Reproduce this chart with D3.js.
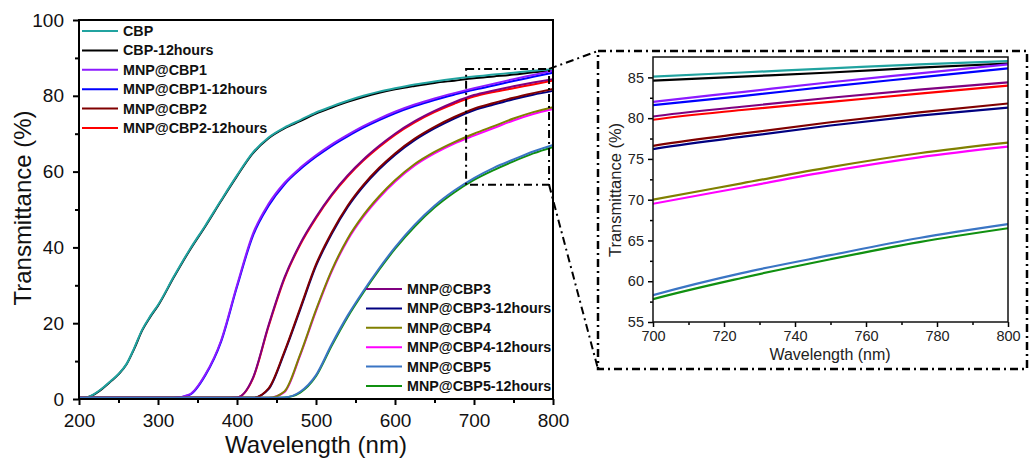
<!doctype html>
<html>
<head>
    <meta http-equiv="Content-type" content="text/html; charset=utf-8"/>
    <script src="https://d3js.org/d3.v7.min.js"></script>
    <style>
        body { margin: 0; background: #fff; }
        svg { display: block; font-family: "Liberation Sans", Arial, sans-serif; }
        .legend text { font-weight: bold; font-size: 14.3px; }
    </style>
</head>
<body>
    <svg width="1035" height="459"></svg>

    <script>
        var wavelength = [200,210,220,230,240,250,260,270,280,290,300,320,340,360,380,400,420,440,460,480,500,520,540,560,580,600,625,650,675,700,725,750,775,800];

        var cbp    = [0.2,0.4,1.4,2.9,4.7,6.6,9.2,13.5,18.3,21.8,24.8,32.3,39.4,45.8,52.5,59.0,65.0,69.0,71.6,73.6,75.6,77.2,78.7,80.0,81.1,82.0,83.0,83.8,84.5,85.1,85.6,86.1,86.6,87.0];
        var cbp12  = [0.2,0.4,1.3,2.8,4.6,6.5,9.1,13.3,18.1,21.6,24.6,32.1,39.2,45.6,52.3,58.8,64.8,68.8,71.4,73.3,75.3,76.9,78.4,79.7,80.8,81.7,82.6,83.4,84.0,84.6,85.1,85.6,86.2,86.7];
        var mnp1   = [0.3,0.3,0.3,0.3,0.3,0.3,0.3,0.3,0.3,0.3,0.3,0.3,1.2,6.5,15.5,30.0,43.5,51.5,57.0,61.0,64.3,67.2,69.7,72.0,74.0,75.8,77.7,79.3,80.7,82.0,83.2,84.4,85.5,86.6];
        var mnp1h  = [0.3,0.3,0.3,0.3,0.3,0.3,0.3,0.3,0.3,0.3,0.3,0.3,1.1,6.3,15.2,29.6,43.0,51.0,56.6,60.6,63.9,66.8,69.3,71.6,73.6,75.4,77.3,78.9,80.3,81.6,82.7,83.9,85.0,86.1];
        var mnp2   = [0.3,0.3,0.3,0.3,0.3,0.3,0.3,0.3,0.3,0.3,0.3,0.3,0.3,0.3,0.3,0.3,0.3,2.8,12.5,24.0,35.5,44.0,51.0,56.5,61.0,64.8,68.7,71.8,74.4,76.6,78.1,79.5,80.7,81.8];
        var mnp2h  = [0.3,0.3,0.3,0.3,0.3,0.3,0.3,0.3,0.3,0.3,0.3,0.3,0.3,0.3,0.3,0.4,5.3,19.2,31.7,40.7,47.7,53.7,58.7,62.9,66.5,69.7,73.0,75.7,77.9,79.8,81.0,82.0,83.0,84.0];
        var mnp3   = [0.3,0.3,0.3,0.3,0.3,0.3,0.3,0.3,0.3,0.3,0.3,0.3,0.3,0.3,0.3,0.4,5.5,19.5,32.0,41.0,48.0,54.0,59.0,63.2,66.8,70.0,73.3,76.0,78.3,80.2,81.4,82.5,83.5,84.4];
        var mnp3h  = [0.3,0.3,0.3,0.3,0.3,0.3,0.3,0.3,0.3,0.3,0.3,0.3,0.3,0.3,0.3,0.3,0.3,2.6,12.2,23.6,35.1,43.6,50.6,56.1,60.6,64.4,68.3,71.4,74.0,76.2,77.7,79.1,80.3,81.3];
        var mnp4   = [0.3,0.3,0.3,0.3,0.3,0.3,0.3,0.3,0.3,0.3,0.3,0.3,0.3,0.3,0.3,0.3,0.3,0.3,2.0,11.8,23.5,34.0,42.3,48.5,53.5,57.7,62.0,65.2,67.8,70.0,72.0,74.0,75.7,77.0];
        var mnp4h  = [0.3,0.3,0.3,0.3,0.3,0.3,0.3,0.3,0.3,0.3,0.3,0.3,0.3,0.3,0.3,0.3,0.3,0.3,1.8,11.5,23.2,33.7,41.9,48.1,53.1,57.3,61.6,64.8,67.4,69.5,71.5,73.5,75.2,76.5];
        var mnp5   = [0.3,0.3,0.3,0.3,0.3,0.3,0.3,0.3,0.3,0.3,0.3,0.3,0.3,0.3,0.3,0.3,0.3,0.3,0.4,1.9,6.3,14.5,22.0,28.5,34.5,40.0,46.0,51.0,55.0,58.3,61.0,63.2,65.3,67.0];
        var mnp5h  = [0.3,0.3,0.3,0.3,0.3,0.3,0.3,0.3,0.3,0.3,0.3,0.3,0.3,0.3,0.3,0.3,0.3,0.3,0.4,1.7,6.0,14.1,21.6,28.1,34.1,39.6,45.5,50.5,54.5,57.8,60.4,62.7,64.8,66.5];

        var names  = ["CBP","CBP-12hours","MNP@CBP1","MNP@CBP1-12hours","MNP@CBP2","MNP@CBP2-12hours",
                      "MNP@CBP3","MNP@CBP3-12hours","MNP@CBP4","MNP@CBP4-12hours","MNP@CBP5","MNP@CBP5-12hours"];
        var colors = ["#21a3a0","#000000","#8c1aff","#0000ff","#800000","#ff0000",
                      "#800080","#000080","#808000","#ff00ff","#3a75c4","#109010"];
        var values = [cbp, cbp12, mnp1, mnp1h, mnp2, mnp2h, mnp3, mnp3h, mnp4, mnp4h, mnp5, mnp5h];

        var xTicks = [200,300,400,500,600,700,800];
        var yTicks = [0,20,40,60,80,100];
        var insetXTicks = [700,720,740,760,780,800];
        var insetYTicks = [55,60,65,70,75,80,85];

        var series = names.map(function(n, i) {
            return { name: n, color: colors[i], points: wavelength.map(function(w, j) { return [w, values[i][j]]; }) };
        });
        // the 12 hour curves sit underneath the fresh ones
        var drawOrder = series.filter(function(d) { return d.name.indexOf("12hours") >= 0; })
            .concat(series.filter(function(d) { return d.name.indexOf("12hours") < 0; }));

        var svg = d3.select("svg");

        // ---- main plot
        var x = d3.scaleLinear().domain([200, 800]).range([79, 553]);
        var y = d3.scaleLinear().domain([0, 100]).range([399, 20]);

        var line = d3.line()
            .x(function(d) { return x(d[0]); })
            .y(function(d) { return y(d[1]); })
            .curve(d3.curveMonotoneX);

        svg.append("g").selectAll("path")
            .data(drawOrder)
            .enter()
            .append("path")
            .attr("fill", "none")
            .attr("stroke", function(d) { return d.color; })
            .attr("stroke-width", 2)
            .attr("d", function(d) { return line(d.points); });

        // minor ticks
        svg.append("g")
            .attr("transform", "translate(0,399)")
            .call(d3.axisBottom(x).tickValues([250,350,450,550,650,750]).tickSize(4).tickFormat(""))
            .call(function(g) { g.select(".domain").remove(); g.selectAll("line").attr("stroke-width", 2); });
        svg.append("g")
            .attr("transform", "translate(79,0)")
            .call(d3.axisLeft(y).tickValues([10,30,50,70,90]).tickSize(4).tickFormat(""))
            .call(function(g) { g.select(".domain").remove(); g.selectAll("line").attr("stroke-width", 2); });

        var xAxis = svg.append("g")
            .attr("transform", "translate(0,399)")
            .call(d3.axisBottom(x).tickValues(xTicks).tickSize(6).tickSizeOuter(0).tickPadding(9));
        var yAxis = svg.append("g")
            .attr("transform", "translate(79,0)")
            .call(d3.axisLeft(y).tickValues(yTicks).tickSize(6).tickSizeOuter(0).tickPadding(9));

        [xAxis, yAxis].forEach(function(g) {
            g.select(".domain").remove();
            g.selectAll("line").attr("stroke-width", 2);
            g.selectAll("text").attr("font-size", 19).attr("font-family", "Liberation Sans, Arial, sans-serif").attr("fill", "#111");
        });

        svg.append("rect")
            .attr("x", 79).attr("y", 20)
            .attr("width", 553 - 79).attr("height", 399 - 20)
            .attr("fill", "none").attr("stroke", "#000").attr("stroke-width", 2);

        svg.append("text")
            .attr("transform", "translate(31,208) rotate(-90)")
            .attr("text-anchor", "middle")
            .attr("font-size", 24)
            .attr("fill", "#111")
            .text("Transmittance (%)");
        svg.append("text")
            .attr("x", 316).attr("y", 453)
            .attr("text-anchor", "middle")
            .attr("font-size", 24)
            .attr("fill", "#111")
            .text("Wavelength (nm)");

        // legends
        function legend(items, lx, ly) {
            var g = svg.append("g").attr("class", "legend");
            var row = g.selectAll("g")
                .data(items)
                .enter()
                .append("g")
                .attr("transform", function(d, i) { return "translate(" + lx + "," + (ly + i * 19.4) + ")"; });
            row.append("line")
                .attr("x1", 0).attr("x2", 36)
                .attr("stroke", function(d) { return d.color; })
                .attr("stroke-width", 2);
            row.append("text")
                .attr("x", 41).attr("dy", "0.35em")
                .attr("fill", "#111")
                .text(function(d) { return d.name; });
        }
        legend(series.slice(0, 6), 82, 31);
        legend(series.slice(6), 366, 289);

        // zoom box and connectors
        var dash = "8,4,2,4";
        var zx0 = x(690), zx1 = x(795), zy0 = y(87.1), zy1 = y(56.5);
        svg.append("rect")
            .attr("x", zx0).attr("y", zy0)
            .attr("width", zx1 - zx0).attr("height", zy1 - zy0)
            .attr("fill", "none").attr("stroke", "#000").attr("stroke-width", 2)
            .attr("stroke-dasharray", dash);

        svg.append("rect")
            .attr("x", 598).attr("y", 51)
            .attr("width", 1027 - 598).attr("height", 369 - 51)
            .attr("fill", "none").attr("stroke", "#000").attr("stroke-width", 2.5)
            .attr("stroke-dasharray", dash);

        svg.append("line")
            .attr("x1", zx1).attr("y1", zy0).attr("x2", 598).attr("y2", 51)
            .attr("stroke", "#000").attr("stroke-width", 2).attr("stroke-dasharray", dash);
        svg.append("line")
            .attr("x1", zx1).attr("y1", zy1).attr("x2", 598).attr("y2", 369)
            .attr("stroke", "#000").attr("stroke-width", 2).attr("stroke-dasharray", dash);

        // ---- inset
        var ix = d3.scaleLinear().domain([700, 800]).range([653, 1008]);
        var iy = d3.scaleLinear().domain([55, 87.5]).range([322, 57]);

        svg.append("clipPath").attr("id", "clip")
            .append("rect")
            .attr("x", 653).attr("y", 57)
            .attr("width", 1008 - 653).attr("height", 322 - 57);

        var iline = d3.line()
            .x(function(d) { return ix(d[0]); })
            .y(function(d) { return iy(d[1]); })
            .curve(d3.curveMonotoneX);

        svg.append("g").attr("clip-path", "url(#clip)")
            .selectAll("path")
            .data(series)
            .enter()
            .append("path")
            .attr("fill", "none")
            .attr("stroke", function(d) { return d.color; })
            .attr("stroke-width", 2.2)
            .attr("d", function(d) { return iline(d.points.filter(function(p) { return p[0] >= 675; })); });

        svg.append("g")
            .attr("transform", "translate(0,322)")
            .call(d3.axisBottom(ix).tickValues([710,730,750,770,790]).tickSize(3).tickFormat(""))
            .call(function(g) { g.select(".domain").remove(); g.selectAll("line").attr("stroke-width", 1.5); });
        svg.append("g")
            .attr("transform", "translate(653,0)")
            .call(d3.axisLeft(iy).tickValues([57.5,62.5,67.5,72.5,77.5,82.5]).tickSize(3).tickFormat(""))
            .call(function(g) { g.select(".domain").remove(); g.selectAll("line").attr("stroke-width", 1.5); });

        var ixAxis = svg.append("g")
            .attr("transform", "translate(0,322)")
            .call(d3.axisBottom(ix).tickValues(insetXTicks).tickSize(5).tickSizeOuter(0).tickPadding(4));
        var iyAxis = svg.append("g")
            .attr("transform", "translate(653,0)")
            .call(d3.axisLeft(iy).tickValues(insetYTicks).tickSize(5).tickSizeOuter(0).tickPadding(4));

        [ixAxis, iyAxis].forEach(function(g) {
            g.select(".domain").remove();
            g.selectAll("line").attr("stroke-width", 1.5);
            g.selectAll("text").attr("font-size", 14.5).attr("font-family", "Liberation Sans, Arial, sans-serif").attr("fill", "#222");
        });

        svg.append("rect")
            .attr("x", 653).attr("y", 57)
            .attr("width", 1008 - 653).attr("height", 322 - 57)
            .attr("fill", "none").attr("stroke", "#111").attr("stroke-width", 1.5);

        svg.append("text")
            .attr("transform", "translate(621,190) rotate(-90)")
            .attr("text-anchor", "middle")
            .attr("font-size", 16.5)
            .attr("fill", "#222")
            .text("Transmittance (%)");
        svg.append("text")
            .attr("x", 830).attr("y", 360)
            .attr("text-anchor", "middle")
            .attr("font-size", 16)
            .attr("fill", "#222")
            .text("Wavelength (nm)");
    </script>
</body>
</html>
